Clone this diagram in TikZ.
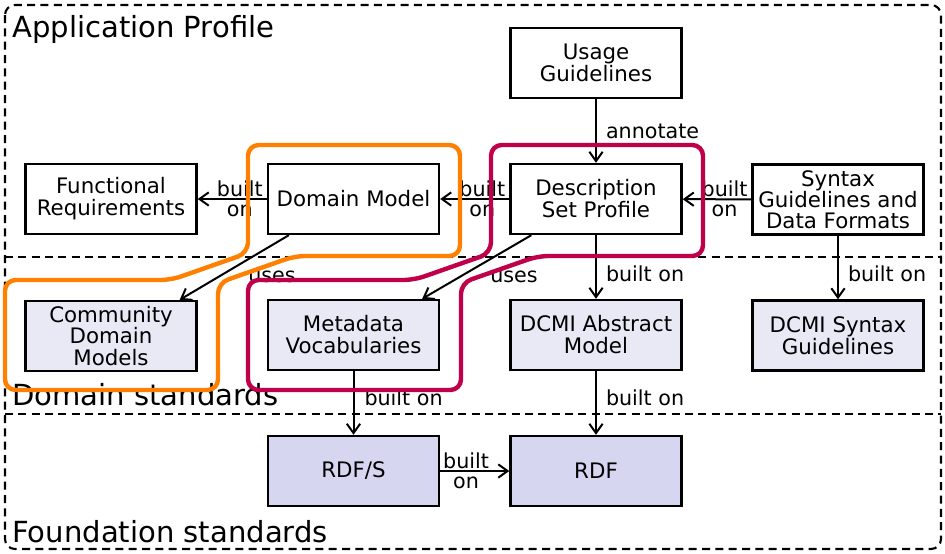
\documentclass[tikz,border=0pt]{standalone}
\usepackage{fontspec}
\setmainfont{DejaVu Sans}
\usetikzlibrary{arrows.meta,calc}
\definecolor{hlorange}{RGB}{255,128,0}
\definecolor{hlred}{RGB}{192,0,74}
\definecolor{lightlav}{RGB}{233,233,246}
\definecolor{darklav}{RGB}{214,214,240}
\begin{document}
\begin{tikzpicture}[x=0.75pt,y=-0.75pt,
  box/.style={draw,line width=1.8pt,minimum width=128.25pt,minimum height=52.5pt,inner sep=0pt,align=center,font=\fontsize{16}{16.5}\selectfont},
  dombox/.style={box,fill=lightlav},
  fndbox/.style={box,fill=darklav},
  conn/.style={line width=1.5pt,-{Straight Barb[length=7pt,width=10pt,line width=1.5pt]}},
  lbl/.style={font=\fontsize{15.5}{15}\selectfont,inner sep=0pt,align=center},
  frame/.style={line width=1.6pt,dash pattern=on 6pt off 4pt},
  title/.style={font=\fontsize{21.8}{24}\selectfont,inner sep=0pt,anchor=base west},
  hl/.style={line width=3.3pt,rounded corners=8pt}]
\useasboundingbox (0,0) rectangle (945,553);

% frame
\draw[frame,rounded corners=7.5pt] (5,5) rectangle (941,549);
\draw[frame] (5,257) -- (941,257);
\draw[frame] (5,414) -- (941,414);

\node[title] (tap) at (12,37) {Application Profile};
\node[title] (tds) at (12,405) {Domain standards};
\node[title] (tfs) at (12,542) {Foundation standards};

% boxes
\node[box] (ug) at (596,63) {Usage\\Guidelines};
\node[box] (fr) at (111,199) {Functional\\Requirements};
\node[box] (dm) at (353.5,199) {Domain Model};
\node[box] (dsp) at (596,199) {Description\\Set Profile};
\node[box,font=\fontsize{16}{15.8}\selectfont] (sg) at (838,199.5) {Syntax\\Guidelines and\\Data Formats};
\node[dombox,font=\fontsize{16}{15.8}\selectfont] (cdm) at (111,336) {Community\\Domain\\Models};
\node[dombox] (mv) at (353.5,335) {Metadata\\Vocabularies};
\node[dombox] (dam) at (596,335) {DCMI Abstract\\Model};
\node[dombox] (dsg) at (838,335.5) {DCMI Syntax\\Guidelines};
\node[fndbox] (rdfs) at (353.5,471) {RDF/S};
\node[fndbox] (rdf) at (596,471) {RDF};

% connectors
\draw[conn] (ug) -- (dsp) node[lbl,pos=0.5,anchor=west,xshift=6.75pt] (lann) {annotate};
\draw[conn] (dm) -- (fr) node[lbl,pos=0.39] (l1) {built\\on};
\draw[conn] (dsp) -- (dm) node[lbl,pos=0.39] (l2) {built\\on};
\draw[conn] (sg) -- (dsp) node[lbl,pos=0.39] (l3) {built\\on};
\draw[conn] (rdfs) -- (rdf) node[lbl,pos=0.375] (l4) {built\\on};
\draw[conn] (dsp) -- (dam) node[lbl,pos=0.6,anchor=west,xshift=6.75pt] (l5) {built on};
\draw[conn] (sg) -- (dsg) node[lbl,pos=0.6,anchor=west,xshift=6.75pt] (l6) {built on};
\draw[conn] (mv) -- (rdfs) node[lbl,pos=0.42,anchor=west,xshift=7.5pt] (l7) {built on};
\draw[conn] (dam) -- (rdf) node[lbl,pos=0.42,anchor=west,xshift=6.75pt] (l8) {built on};
\draw[conn] ([xshift=16.5pt]dm.south west) -- ([xshift=-13.5pt]cdm.north east);
\draw[conn] ([xshift=16.5pt]dsp.south west) -- ([xshift=-13.5pt]mv.north east);
\node[lbl] (u1) at (272,277) {uses};
\node[lbl] (u2) at (514,277) {uses};

% highlights
\draw[hl,hlorange] (248,145) -- (460,145) -- (460,256) -- (295,256) -- (218,283) -- (218,390) -- (5,390) -- (5,280) -- (171,280) -- (248,253) -- cycle;
\draw[hl,hlred] (491,145) -- (703,145) -- (703,256) -- (538,256) -- (461,283) -- (461,390) -- (248,390) -- (248,280) -- (414,280) -- (491,253) -- cycle;
\end{tikzpicture}
\end{document}
